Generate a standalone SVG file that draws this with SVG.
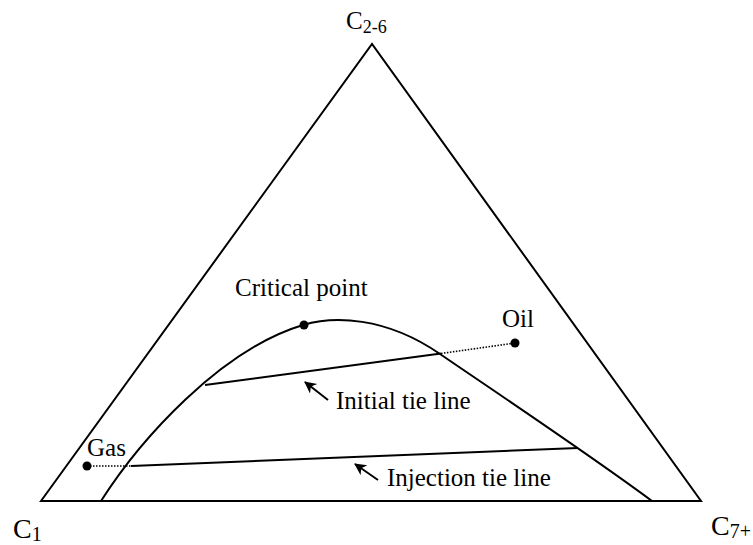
<svg xmlns="http://www.w3.org/2000/svg" width="753" height="545" viewBox="0 0 753 545">
<style>
.lbl{font-size:25px}
.ln{fill:none;stroke:#000;stroke-width:2}
.dot{fill:none;stroke:#000;stroke-width:1.6;stroke-dasharray:1.5 1.5}
.pt{fill:#000}
</style>
<defs>
<marker id="ah" markerWidth="14" markerHeight="14" refX="11" refY="6" orient="auto" markerUnits="userSpaceOnUse">
<path d="M12,6 L0,0 L3.5,6 L0,12 Z" fill="#000" stroke="none"/>
</marker>
</defs>
<g id="triangle">
<path class="ln" d="M41,501 L372,44 L701,501 Z"/>
</g>
<g id="binodal">
<path class="ln" d="M101,501 C140,440 220,350 303,325 C333,316 385,316 440,354 C500,395 590,455 652,501"/>
</g>
<g id="connectors">
<line class="ln" x1="205" y1="385" x2="441" y2="353.5"/>
<line class="dot" x1="441" y1="353.5" x2="515" y2="343"/>
<line class="ln" x1="131" y1="466" x2="578" y2="448"/>
<line class="dot" x1="87" y1="466" x2="131" y2="466"/>
<line class="ln" x1="328" y1="400" x2="305" y2="382" marker-end="url(#ah)"/>
<line class="ln" x1="378" y1="480" x2="355" y2="464" marker-end="url(#ah)"/>
</g>
<g font-family="'Liberation Serif', 'DejaVu Serif', serif" fill="#000">
<g id="critical-point">
<circle class="pt" cx="304" cy="325" r="4.5"/>
<text class="lbl" x="235" y="296" font-family="'Liberation Serif', serif">Critical point</text>
</g>
<g id="oil">
<circle class="pt" cx="515" cy="343" r="4.5"/>
<text class="lbl" x="502" y="327" font-family="'Liberation Serif', serif">Oil</text>
</g>
<g id="gas">
<circle class="pt" cx="87" cy="466" r="4.5"/>
<text class="lbl" x="87" y="456" font-family="'Liberation Serif', serif">Gas</text>
</g>
<g id="initial-label">
<text class="lbl" x="336" y="409" font-family="'Liberation Serif', serif">Initial tie line</text>
</g>
<g id="injection-label">
<text class="lbl" x="387" y="486" font-family="'Liberation Serif', serif">Injection tie line</text>
</g>
<g id="c26">
<text x="346" y="29" font-size="25" font-family="'Liberation Serif', serif">C<tspan font-size="18" dy="4">2-6</tspan></text>
</g>
<g id="c1">
<text x="13" y="538" font-size="28" font-family="'Liberation Serif', serif">C<tspan font-size="20" dy="3">1</tspan></text>
</g>
<g id="c7">
<text x="711" y="535" font-size="28" font-family="'Liberation Serif', serif">C<tspan font-size="20" dy="3">7+</tspan></text>
</g>
</g>
</svg>
